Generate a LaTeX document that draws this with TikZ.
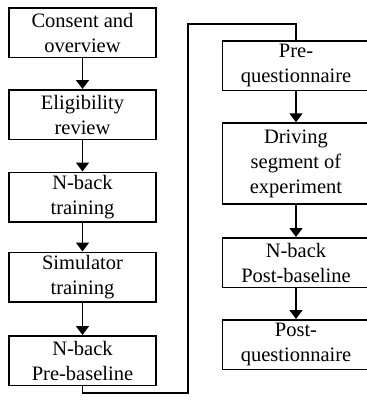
\documentclass[tikz,border=0pt]{standalone}
\usepackage{fontspec}
\setmainfont{Liberation Serif}
\usetikzlibrary{arrows.meta}
\begin{document}
\begin{tikzpicture}[x=1pt,y=-1pt,
    stepbox/.style={draw,line width=1.5pt,minimum width=147pt,minimum height=49.5pt,
      inner sep=0pt,align=center,font=\fontsize{20.5}{25}\selectfont},
    flow/.style={-{Triangle[width=13pt,length=9pt]},line width=1.5pt}]
			\useasboundingbox (0,0) rectangle (367,402);
			\clip (0,0) rectangle (367,402);
			\node[stepbox] (consent) at (82.5,32.5) {Consent and\\overview};
			\node[stepbox] (eligib) at (82.5,114.5) {Eligibility\\review};
			\node[stepbox] (nbacktrain) at (82.5,197) {N-back\\training};
			\node[stepbox] (simtrain) at (82.5,277) {Simulator\\training};
			\node[stepbox] (prebase) at (82.5,360.5) {N-back\\Pre-baseline};
			\node[stepbox] (preq) at (296,65.5) {Pre-\\questionnaire};
			\node[stepbox,minimum height=81pt] (driving) at (296,163.5) {Driving\\segment of\\experiment};
			\node[stepbox] (postbase) at (296,262.5) {N-back\\Post-baseline};
			\node[stepbox] (postq) at (296,344.5) {Post-\\questionnaire};
			\coordinate (turnA) at (188,393);
			\coordinate (turnB) at (188,24);
			\draw[flow](consent)--(eligib);
			\draw[flow](eligib)--(nbacktrain);
			\draw[flow](nbacktrain)--(simtrain);
			\draw[flow](simtrain)--(prebase);
			\draw[line width=1.5pt](prebase.south)|-(turnA)--(turnB)-|(preq.north);
			\draw[flow](preq)--(driving);
			\draw[flow](driving)--(postbase);
			\draw[flow](postbase)--(postq);
		\end{tikzpicture}
\end{document}
